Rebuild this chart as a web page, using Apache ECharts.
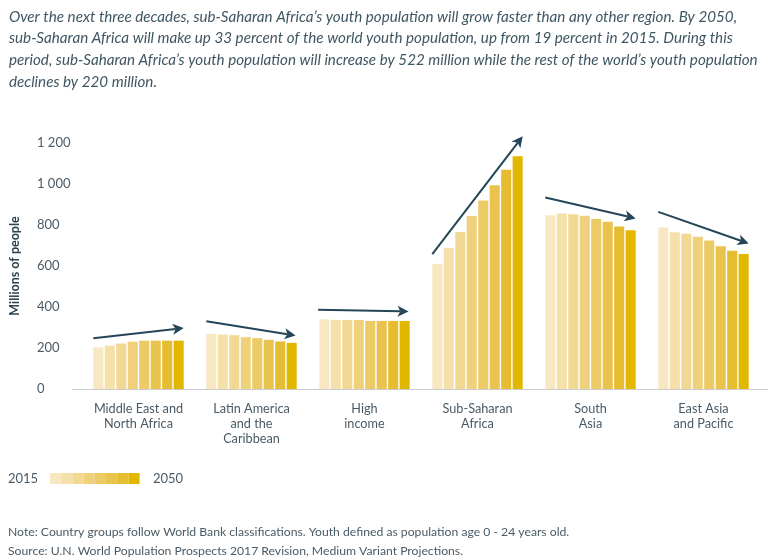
<!DOCTYPE html>
<html><head><meta charset="utf-8">
<script src="https://cdn.jsdelivr.net/npm/echarts@6/dist/echarts.min.js"></script>
<style>html,body{margin:0;padding:0;background:#fff}#c{width:768px;height:560px}</style>
</head><body><div id="c"></div>
<script>
var regions = ['Middle East and\nNorth Africa', 'Latin America\nand the\nCaribbean', 'High\nincome', 'Sub-Saharan\nAfrica', 'South\nAsia', 'East Asia\nand Pacific'];
var years = ['2015', '2020', '2025', '2030', '2035', '2040', '2045', '2050'];
var mena = [203, 212, 222, 231, 236, 236, 236, 236];
var latam = [269, 266, 263, 253, 248, 240, 232, 225];
var highIncome = [340, 337, 337, 337, 332, 332, 332, 332];
var ssa = [610, 688, 766, 844, 920, 994, 1069, 1135];
var southAsia = [848, 856, 853, 845, 829, 816, 793, 774];
var eastAsia = [788, 765, 757, 743, 724, 696, 675, 658];
// trend arrows: [x0, y0, x1, y1] with x in category units (0..6), y in millions
var arrows = [
  [0.10, 248, 0.90, 297],
  [1.10, 331, 1.89, 261],
  [2.09, 386, 2.89, 378],
  [3.10, 658, 3.90, 1233],
  [4.10, 934, 4.90, 832],
  [5.10, 864, 5.90, 710]
];
var yTicks = [0, 200, 400, 600, 800, 1000, 1200];
var titleText = "Over the next three decades, sub-Saharan Africa\u2019s youth population will grow faster than any other region. By 2050,\nsub-Saharan Africa will make up 33 percent of the world youth population, up from 19 percent in 2015. During this\nperiod, sub-Saharan Africa\u2019s youth population will increase by 522 million while the rest of the world\u2019s youth population\ndeclines by 220 million.";
var noteText = "Note: Country groups follow World Bank classifications. Youth defined as population age 0 - 24 years old.";
var sourceText = "Source: U.N. World Population Prospects 2017 Revision, Medium Variant Projections.";

var colors = ['#f8e8c2', '#f5e0aa', '#f2d993', '#efd17c', '#ecca66', '#e9c34e', '#e6bd30', '#e2b700'];
var FONT = 'Lato';
var TXT = '#4a5b67';
var all = [mena, latam, highIncome, ssa, southAsia, eastAsia];

var series = years.map(function (y, i) {
  return {
    name: y, type: 'bar', xAxisIndex: 0, yAxisIndex: 0,
    barCategoryGap: '20%', barGap: '14%',
    itemStyle: { color: colors[i] },
    data: all.map(function (r) { return r[i]; }),
    silent: true
  };
});
series.push({
  type: 'custom', xAxisIndex: 1, yAxisIndex: 0, silent: true, clip: false,
  data: arrows,
  renderItem: function (params, api) {
    var p0 = api.coord([api.value(0), api.value(1)]);
    var p1 = api.coord([api.value(2), api.value(3)]);
    var dx = p1[0] - p0[0], dy = p1[1] - p0[1];
    var len = Math.sqrt(dx * dx + dy * dy);
    var ux = dx / len, uy = dy / len;
    var hl = 11, hw = 5.5;
    var bx = p1[0] - ux * hl, by = p1[1] - uy * hl;
    var nx = -uy, ny = ux;
    var notchX = p1[0] - ux * hl * 0.75, notchY = p1[1] - uy * hl * 0.75;
    return {
      type: 'group',
      children: [
        { type: 'line', shape: { x1: p0[0], y1: p0[1], x2: notchX, y2: notchY }, style: { stroke: '#244658', lineWidth: 2 } },
        { type: 'polygon', shape: { points: [[p1[0], p1[1]], [bx + nx * hw, by + ny * hw], [notchX, notchY], [bx - nx * hw, by - ny * hw]] }, style: { fill: '#244658' } }
      ]
    };
  }
});

var legendGraphics = [
  { type: 'text', left: 8, top: 472, style: { text: '2015', font: '13px ' + FONT, fill: TXT } }
];
colors.forEach(function (c, i) {
  legendGraphics.push({ type: 'rect', shape: { x: 50 + i * 11.2, y: 473, width: 11.2, height: 11 }, style: { fill: c } });
});
legendGraphics.push({ type: 'text', left: 153, top: 472, style: { text: '2050', font: '13px ' + FONT, fill: TXT } });

var chart = echarts.init(document.getElementById('c'), null, { renderer: 'canvas' });
chart.setOption({
  animation: false,
  textStyle: { fontFamily: FONT },
  title: {
    text: titleText, left: 4, top: 1,
    textStyle: { fontFamily: 'Lato', fontStyle: 'italic', fontWeight: 'normal', fontSize: 15.2, lineHeight: 21.7, color: '#3f5663' }
  },
  grid: { left: 82, right: 8, top: 143, bottom: 171, containLabel: false, outerBoundsMode: 'none' },
  xAxis: [
    {
      type: 'category', data: regions,
      axisLine: { show: false }, axisTick: { show: false },
      axisLabel: { interval: 0, color: TXT, fontSize: 12.7, lineHeight: 15, margin: 12, fontFamily: FONT }
    },
    { type: 'value', min: 0, max: 6, show: false }
  ],
  yAxis: {
    type: 'value', min: 0, max: 1200, interval: 200,
    name: 'Millions of people', nameLocation: 'middle', nameGap: 61,
    nameTextStyle: { fontWeight: 'bold', fontSize: 12.5, color: '#2d4350', fontFamily: FONT },
    axisLine: { show: false }, axisTick: { show: false }, splitLine: { show: false },
    axisLabel: {
      color: TXT, fontSize: 13, margin: 45, align: 'left', fontFamily: FONT,
      formatter: function (v) { return String(v).replace(/\B(?=(\d{3})+(?!\d))/g, ' '); }
    }
  },
  series: series,
  graphic: [
    { type: 'line', shape: { x1: 72, y1: 389.5, x2: 768, y2: 389.5 }, style: { stroke: '#c9cdd1', lineWidth: 1 }, z: 10 },
    { type: 'text', left: 8, top: 526, style: { text: noteText, font: '12.2px ' + FONT, fill: TXT } },
    { type: 'text', left: 8, top: 545, style: { text: sourceText, font: '12.2px ' + FONT, fill: TXT } }
  ].concat(legendGraphics)
});
</script></body></html>
